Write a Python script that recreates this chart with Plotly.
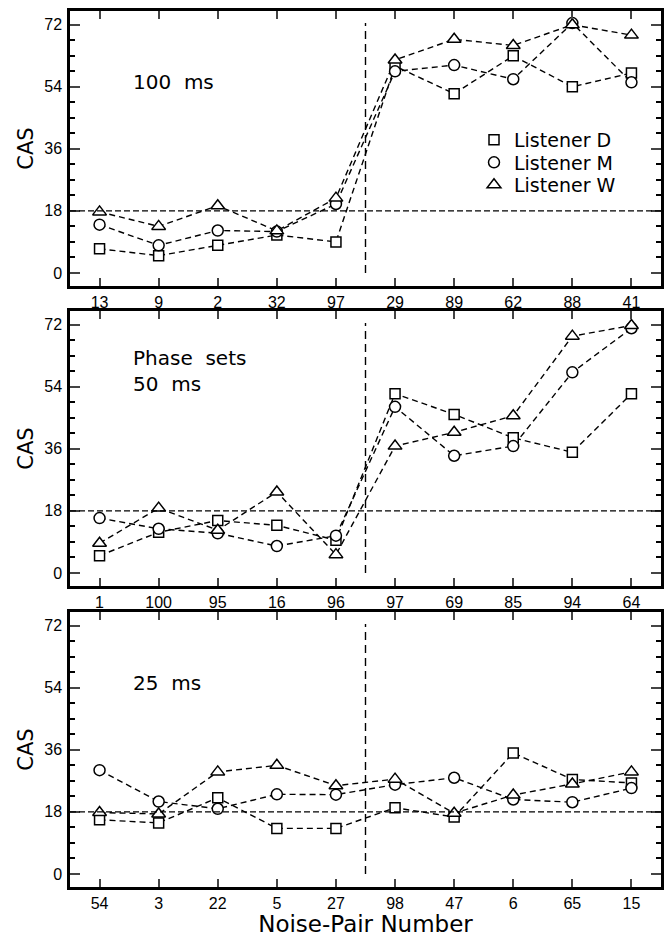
import plotly.graph_objects as go

# ---- data ----
p1_cats = ["13", "9", "2", "32", "97", "29", "89", "62", "88", "41"]
p1_D = [7, 5, 8, 11, 9, 60, 52, 63, 54, 58]
p1_M = [14, 8, 12.3, 12, 20, 58.5, 60.3, 56.2, 72.5, 55.3]
p1_W = [17.7, 13.5, 19.5, 12.2, 21.7, 61.8, 67.8, 66, 72, 69]

p2_cats = ["1", "100", "95", "16", "96", "97", "69", "85", "94", "64"]
p2_D = [5, 11.8, 15.2, 13.8, 9.5, 52, 46, 39.2, 35, 52]
p2_M = [15.9, 12.8, 11.5, 7.8, 10.8, 48.2, 34, 36.8, 58.2, 71]
p2_W = [8.6, 18.8, 12.4, 23.5, 5.3, 36.8, 40.8, 45.6, 68.7, 71.8]

p3_cats = ["54", "3", "22", "5", "27", "98", "47", "6", "65", "15"]
p3_D = [15.7, 14.8, 22.1, 13.2, 13.2, 19.2, 16.5, 35.1, 27.4, 26.4]
p3_M = [30.1, 21, 18.9, 23.1, 23, 25.9, 27.9, 21.6, 20.8, 24.9]
p3_W = [17.8, 17.4, 29.6, 31.5, 25.6, 27.5, 17.6, 22.9, 26.1, 29.6]

panel_labels = ["100\u00a0 ms", "Phase\u00a0 sets<br>50\u00a0 ms", "25\u00a0 ms"]
listeners = ["Listener\u00a0D", "Listener\u00a0M", "Listener\u00a0W"]
y_ticks = [0, 18, 36, 54, 72]
criterion = 18
x_title = "Noise-Pair Number"
y_title = "CAS"

panels = [
    (p1_cats, [p1_D, p1_M, p1_W]),
    (p2_cats, [p2_D, p2_M, p2_W]),
    (p3_cats, [p3_D, p3_M, p3_W]),
]

symbols = ["square", "circle", "triangle-up"]
msizes = [10, 11, 12]

W, H = 666, 937
ml, mr, mt, mb = 70, 5, 11, 50
ph = H - mt - mb
panel_px = [(11, 286), (311, 586), (612, 887)]
domains = [[(H - mb - b) / ph, (H - mb - t) / ph] for t, b in panel_px]
domains[0][1] = 1.0
domains[2][0] = 0.0

fig = go.Figure()
tickfont = dict(family="Liberation Sans", size=16, color="black")

for i, (cats, series) in enumerate(panels):
    xa = "x" if i == 0 else f"x{i+1}"
    ya = "y" if i == 0 else f"y{i+1}"
    # lines first
    for s in series:
        fig.add_trace(go.Scatter(
            x=cats, y=s, xaxis=xa, yaxis=ya, mode="lines",
            line=dict(color="black", width=1.4, dash="6px,4px"),
            showlegend=False, hoverinfo="skip"))
    # then markers
    for s, sym, ms in zip(series, symbols, msizes):
        fig.add_trace(go.Scatter(
            x=cats, y=s, xaxis=xa, yaxis=ya, mode="markers",
            marker=dict(symbol=sym, size=ms, color="white",
                        line=dict(color="black", width=1.5)),
            showlegend=False))

# legend-only entries, one legend per row
legend_rows_px = [140, 162.5, 185]
for j, (name, sym, ms) in enumerate(zip(listeners, symbols, msizes)):
    lg = "legend" if j == 0 else f"legend{j+1}"
    fig.add_trace(go.Scatter(
        x=[None], y=[None], mode="markers", name=name, legend=lg,
        marker=dict(symbol=sym, size=ms, color="white",
                    line=dict(color="black", width=1.5))))

legend_common = dict(
    xanchor="left", yanchor="middle",
    x=(474 - ml) / (W - ml - mr),
    bgcolor="rgba(0,0,0,0)", borderwidth=0,
    font=dict(family="DejaVu Sans", size=19, color="black"),
)
layout_legends = {}
for j, ypx in enumerate(legend_rows_px):
    key = "legend" if j == 0 else f"legend{j+1}"
    layout_legends[key] = dict(legend_common, y=(H - mb - ypx) / ph)

axis_common = dict(
    showline=True, linecolor="black", linewidth=2.5, mirror="ticks",
    showgrid=False, zeroline=False, tickfont=tickfont, automargin=False,
)

layout = dict(
    width=W, height=H,
    margin=dict(l=ml, r=mr, t=mt, b=mb),
    paper_bgcolor="white", plot_bgcolor="white",
    showlegend=True,
    **layout_legends,
)

shapes = []
annotations = []
for i, (cats, series) in enumerate(panels):
    sfx = "" if i == 0 else str(i + 1)
    layout[f"xaxis{sfx}"] = dict(
        axis_common, domain=[0, 1], anchor=f"y{sfx}",
        type="category", range=[-0.5, 9.5],
        ticks="inside", ticklen=8, tickwidth=2,
        title=dict(text=x_title, font=dict(family="DejaVu Sans", size=23, color="black"),
                   standoff=7) if i == 2 else None,
    )
    layout[f"yaxis{sfx}"] = dict(
        axis_common, domain=domains[i], anchor=f"x{sfx}",
        range=[-3.8, 76], tickvals=y_ticks,
        ticks="inside", ticklen=10, tickwidth=2,
        minor=dict(dtick=4.5, tick0=0, ticks="inside", ticklen=5, tickwidth=1.5,
                   tickcolor="black", showgrid=False),
        ticklabelstandoff=2,
        title=dict(text=y_title, font=dict(family="DejaVu Sans", size=21, color="black"),
                   standoff=5),
    )
    xr = f"x{sfx}"
    yr = f"y{sfx}"
    shapes.append(dict(type="line", xref=f"{xr} domain", yref=yr,
                       x0=0, x1=1, y0=criterion, y1=criterion,
                       line=dict(color="black", width=1.4, dash="6px,3px")))
    shapes.append(dict(type="line", xref=xr, yref=yr,
                       x0=4.5, x1=4.5, y0=0, y1=72.5,
                       line=dict(color="black", width=1.4, dash="8px,5px")))
    ypos = [0.742, 0.782, 0.742][i]
    annotations.append(dict(
        text=panel_labels[i], xref=f"{xr} domain", yref=f"{yr} domain",
        x=(131 - ml) / (W - ml - mr), y=ypos, xanchor="left", yanchor="middle",
        align="left", showarrow=False,
        font=dict(family="DejaVu Sans", size=20, color="black")))

layout["shapes"] = shapes
layout["annotations"] = annotations
fig.update_layout(**layout)

fig.write_html("out.html")
